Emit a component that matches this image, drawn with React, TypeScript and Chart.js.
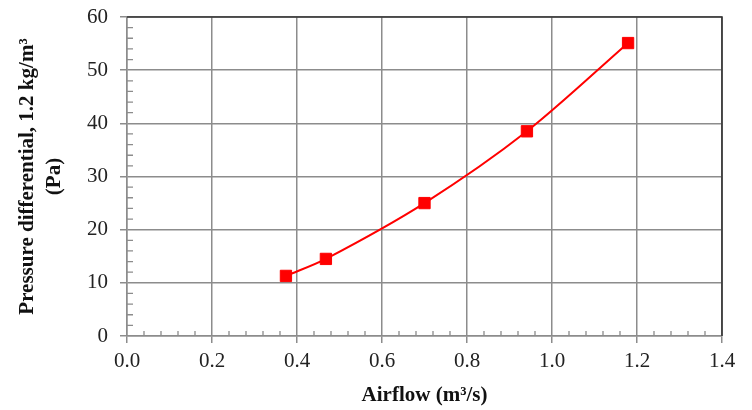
import React, { useEffect, useRef } from "react";
import { Chart, registerables } from "chart.js";

Chart.register(...registerables);

const airflow = [0.374, 0.468, 0.70, 0.941, 1.179];
const pressure = [11.3, 14.5, 25.0, 38.5, 55.1];
const xTitle = "Airflow (m³/s)";
const yTitle = ["Pressure differential, 1.2 kg/m³", "(Pa)"];

const X_MIN = 0, X_MAX = 1.4, X_STEP = 0.2, X_MINOR = 0.04;
const Y_MIN = 0, Y_MAX = 60, Y_STEP = 10, Y_MINOR = 2;

const SERIF = "'Liberation Serif', 'Times New Roman', serif";

const minorPlugin = {
  id: "minorTicksAndBorder",
  beforeDatasetsDraw(chart: any) {
    const { ctx, chartArea, scales } = chart;
    const xs = scales.x, ys = scales.y;
    ctx.save();
    ctx.strokeStyle = "#8c8c8c";
    ctx.lineWidth = 1.3;
    ctx.beginPath();
    const nx = Math.round((X_MAX - X_MIN) / X_MINOR);
    for (let i = 0; i <= nx; i++) {
      if (i % Math.round(X_STEP / X_MINOR) === 0) continue;
      const px = xs.getPixelForValue(X_MIN + i * X_MINOR);
      ctx.moveTo(px, chartArea.bottom);
      ctx.lineTo(px, chartArea.bottom - 5);
    }
    const ny = Math.round((Y_MAX - Y_MIN) / Y_MINOR);
    for (let i = 0; i <= ny; i++) {
      if (i % Math.round(Y_STEP / Y_MINOR) === 0) continue;
      const py = ys.getPixelForValue(Y_MIN + i * Y_MINOR);
      ctx.moveTo(chartArea.left, py);
      ctx.lineTo(chartArea.left + 6, py);
    }
    ctx.stroke();
    ctx.strokeStyle = "#333333";
    ctx.lineWidth = 1.6;
    ctx.beginPath();
    ctx.moveTo(chartArea.left, chartArea.top);
    ctx.lineTo(chartArea.right, chartArea.top);
    ctx.lineTo(chartArea.right, chartArea.bottom);
    ctx.stroke();
    ctx.restore();
  },
};

export default function App() {
  const ref = useRef<HTMLCanvasElement>(null);
  useEffect(() => {
    if (!ref.current) return;
    const data = airflow.map((x, i) => ({ x, y: pressure[i] }));
    const chart = new Chart(ref.current, {
      type: "scatter",
      data: {
        datasets: [
          {
            data,
            showLine: true,
            borderColor: "#ff0000",
            backgroundColor: "#ff0000",
            borderWidth: 2,
            tension: 0.3,
            pointStyle: "rect",
            pointRadius: 8,
            pointBorderWidth: 1,
            pointBackgroundColor: "#ff0000",
            pointBorderColor: "#ff0000",
          },
        ],
      },
      options: {
        animation: false,
        responsive: true,
        maintainAspectRatio: false,
        layout: { padding: { top: 17, right: 30, left: 0, bottom: 0 } },
        plugins: { legend: { display: false }, tooltip: { enabled: false } },
        scales: {
          x: {
            type: "linear",
            min: X_MIN,
            max: X_MAX,
            afterFit: (s: any) => { s.height = 74; s.paddingLeft = 0; s.paddingRight = 0; },
            ticks: {
              stepSize: X_STEP,
              color: "#222",
              font: { family: SERIF, size: 21 },
              padding: 6,
              maxRotation: 0,
              callback: (v: any) => Number(v).toFixed(1),
            },
            grid: { color: "#8c8c8c", lineWidth: 1.5, tickLength: 7 },
            border: { color: "#8c8c8c", width: 1.5 },
            title: {
              display: true,
              text: xTitle,
              color: "#111",
              font: { family: SERIF, size: 21, weight: "bold" },
              padding: { top: 4, bottom: 1.5 },
            },
          },
          y: {
            type: "linear",
            min: Y_MIN,
            max: Y_MAX,
            afterFit: (s: any) => { s.width = 127; s.paddingTop = 0; s.paddingBottom = 0; },
            ticks: {
              stepSize: Y_STEP,
              color: "#222",
              font: { family: SERIF, size: 21 },
              padding: 12,
            },
            grid: { color: "#8c8c8c", lineWidth: 1.5, tickLength: 7 },
            border: { color: "#8c8c8c", width: 1.5 },
            title: {
              display: true,
              text: yTitle,
              color: "#111",
              font: { family: SERIF, size: 21, weight: "bold", lineHeight: 1.3 },
              padding: { top: 14, bottom: 0 },
            },
          },
        },
      },
      plugins: [minorPlugin],
    });
    return () => chart.destroy();
  }, []);
  return (
    <div style={{ position: "absolute", left: 0, top: 0, width: 752, height: 410, background: "#fff" }}>
      <canvas ref={ref} />
    </div>
  );
}
